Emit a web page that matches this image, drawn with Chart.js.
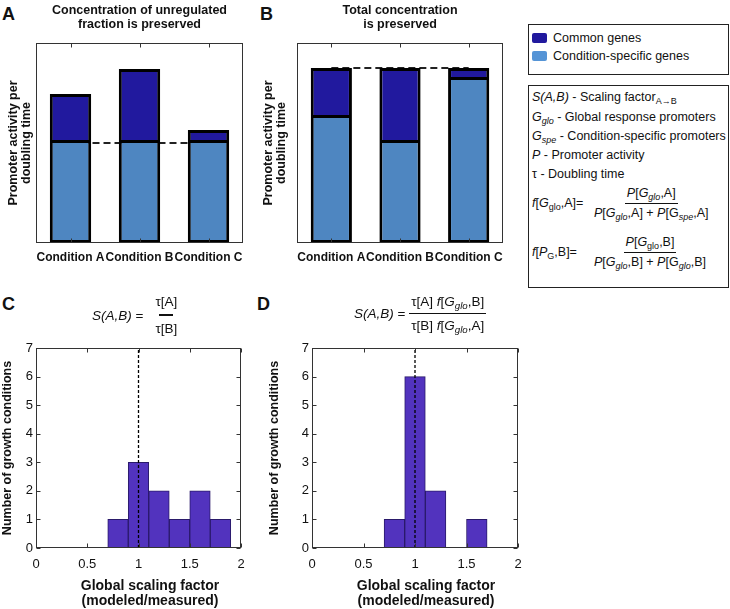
<!DOCTYPE html>
<html><head><meta charset="utf-8">
<script src="https://cdn.jsdelivr.net/npm/chart.js@4"></script>
<style>
html,body{margin:0;padding:0;background:#fff}
body{width:730px;height:609px;position:relative;overflow:hidden;font-family:"Liberation Sans",Arial,Helvetica,sans-serif;color:#111}
canvas{position:absolute}
.letter{position:absolute;font-weight:bold;font-size:18px;line-height:18px}
.box{position:absolute;box-sizing:border-box;border:1.5px solid #222}
.row{position:absolute;left:3px;font-size:12.5px;line-height:15px;white-space:nowrap}
sub{font-size:0.72em;vertical-align:-0.35em;line-height:0}
.sw{display:inline-block;width:15px;height:10px;border-radius:2px;vertical-align:-1px;margin-right:6px}
.frac{display:inline-flex;flex-direction:column;align-items:center;vertical-align:middle}
.frac .num{padding:0 2px 2px 2px;border-bottom:1.5px solid #111}
.frac .den{padding:2px 2px 0 2px}
.xt{position:absolute;font-weight:bold;font-size:14px;line-height:15px;text-align:center;white-space:nowrap}
.formula{position:absolute;font-size:13.5px;white-space:nowrap;display:flex;align-items:center}
</style></head>
<body>
<div class="letter" style="left:2px;top:5px">A</div>
<div class="letter" style="left:260px;top:5px">B</div>
<div class="letter" style="left:2px;top:295px">C</div>
<div class="letter" style="left:257px;top:295px">D</div>

<canvas id="cA" width="255" height="280" style="left:0;top:0"></canvas>
<canvas id="cB" width="260" height="280" style="left:255px;top:0"></canvas>
<canvas id="cC" width="255" height="319" style="left:0;top:290px"></canvas>
<canvas id="cD" width="275" height="319" style="left:255px;top:290px"></canvas>

<div class="box" style="left:528px;top:24px;width:201px;height:51px">
  <div class="row" style="top:6px;left:3px"><span class="sw" style="background:#21199E"></span>Common genes</div>
  <div class="row" style="top:24px;left:3px"><span class="sw" style="background:#5594d6"></span>Condition-specific genes</div>
</div>

<div class="box" style="left:528px;top:85px;width:201px;height:203px">
  <div class="row" style="top:4px"><i>S(A,B)</i> - Scaling factor<sub>A→B</sub></div>
  <div class="row" style="top:24px"><i>G<sub>glo</sub></i> - Global response promoters</div>
  <div class="row" style="top:43px"><i>G<sub>spe</sub></i> - Condition-specific promoters</div>
  <div class="row" style="top:62px"><i>P</i> - Promoter activity</div>
  <div class="row" style="top:81px">τ - Doubling time</div>
  <div class="row" style="top:100px;display:flex;align-items:center">
    <span style="width:60px"><i>f</i>[<i>G</i><sub>glo</sub>,A]=</span>
    <span class="frac"><span class="num"><i>P</i>[<i>G<sub>glo</sub></i>,A]</span><span class="den"><i>P</i>[<i>G<sub>glo</sub></i>,A] + <i>P</i>[G<sub><i>spe</i></sub>,A]</span></span>
  </div>
  <div class="row" style="top:149px;display:flex;align-items:center">
    <span style="width:60px"><i>f</i>[<i>P</i><sub>G</sub>,B]=</span>
    <span class="frac"><span class="num"><i>P</i>[<i>G</i><sub>glo</sub>,B]</span><span class="den"><i>P</i>[<i>G<sub>glo</sub></i>,B] + <i>P</i>[G<sub><i>glo</i></sub>,B]</span></span>
  </div>
</div>

<div class="formula" style="left:92px;top:294px">
  <span><i>S(A,B)</i> =</span>
  <span class="frac" style="margin-left:12px"><span>τ[A]</span><span style="width:14px;border-top:2px solid #111;margin:5px 0 5px 0"></span><span>τ[B]</span></span>
</div>
<div class="formula" style="left:354px;top:294px">
  <span><i>S(A,B)</i> =&nbsp;</span>
  <span class="frac"><span class="num" style="padding-bottom:4px">τ[A] <i>f</i>[<i>G<sub>glo</sub></i>,B]</span><span class="den" style="padding-top:4px">τ[B] <i>f</i>[<i>G<sub>glo</sub></i>,A]</span></span>
</div>

<div class="xt" style="left:70px;top:578px;width:160px">Global scaling factor<br>(modeled/measured)</div>
<div class="xt" style="left:346px;top:578px;width:160px">Global scaling factor<br>(modeled/measured)</div>

<script>
// ---- data ----
const conditions = ['Condition A', 'Condition B', 'Condition C'];
// Panel A: concentration of unregulated fraction preserved
const specificA = [0.50, 0.50, 0.50];
const commonA   = [0.245, 0.37, 0.065];
const refLevelA = 0.50;
// Panel B: total concentration preserved
const specificB = [0.625, 0.50, 0.815];
const commonB   = [0.25, 0.375, 0.06];
const refLevelB = 0.875;
// Panels C, D: histograms of global scaling factor
const binCentersC = [0.8, 1.0, 1.2, 1.4, 1.6, 1.8];
const countsC     = [1, 3, 2, 1, 2, 1];
const binCentersD = [0.8, 1.0, 1.2, 1.6];
const countsD     = [1, 6, 2, 1];
const refScaling  = 1;
const xTickValues = [0, 0.5, 1, 1.5, 2];
const yMaxHist    = 7;

const COMMON = '#21199E', SPECIFIC = '#4E86C1', HIST = '#5233BE';

Chart.defaults.font.family = '"Liberation Sans", Arial, Helvetica, sans-serif';
Chart.defaults.color = '#111';
Chart.defaults.animation = false;

const framePlugin = {
  id: 'frame',
  afterDatasetsDraw(chart, args, opts) {
    const {ctx, chartArea: a} = chart;
    const L = 4;
    ctx.save();
    ctx.strokeStyle = '#333';
    ctx.lineWidth = 1;
    const l = Math.round(a.left) + 0.5, r = Math.round(a.right) - 0.5, t = Math.round(a.top) + 0.5, b = Math.round(a.bottom) - 0.5;
    ctx.strokeRect(l, t, r - l, b - t);
    ctx.beginPath();
    if (opts.xTicks) {
      const xs = chart.scales.x;
      xs.ticks.forEach((tk, i) => {
        const px = Math.round(xs.getPixelForTick(i)) + 0.5;
        ctx.moveTo(px, t); ctx.lineTo(px, t + L);
        ctx.moveTo(px, b); ctx.lineTo(px, b - L);
      });
    }
    if (opts.yTicks) {
      const ys = chart.scales.y;
      ys.ticks.forEach((tk, i) => {
        const py = Math.round(ys.getPixelForTick(i)) + 0.5;
        ctx.moveTo(l, py); ctx.lineTo(l + L, py);
        ctx.moveTo(r, py); ctx.lineTo(r - L, py);
      });
    }
    ctx.stroke();
    ctx.restore();
  }
};

function noOverhangX(s) { s.paddingLeft = 0; s.paddingRight = 0; }
function noOverhangY(s) { s.paddingTop = 0; s.paddingBottom = 0; }

function stackedChart(id, title, specific, common, refLevel, axisWidth) {
  return new Chart(document.getElementById(id), {
    type: 'bar',
    data: {
      labels: conditions,
      datasets: [
        {label: 'Condition-specific genes', data: specific, backgroundColor: SPECIFIC, borderColor: '#000',
         borderWidth: 3, borderSkipped: 'top', stack: 'bars', order: 0},
        {label: 'Common genes', data: common, backgroundColor: COMMON, borderColor: '#000',
         borderWidth: 3, borderSkipped: false, stack: 'bars', order: 0},
        {type: 'line', label: 'reference', data: conditions.map(() => refLevel), borderColor: '#222',
         borderWidth: 2, borderDash: [7, 4], pointRadius: 0, stack: 'ref', order: 5}
      ]
    },
    options: {
      responsive: false,
      layout: {padding: {left: 0, right: 12, top: 0, bottom: 0}},
      categoryPercentage: 1, barPercentage: 0.6,
      plugins: {
        legend: {display: false}, tooltip: {enabled: false},
        title: {display: true, text: title, fullSize: false, color: '#111',
                font: {size: 12.5, weight: 'bold', lineHeight: 1.12}, padding: {top: 4, bottom: 11}},
        frame: {xTicks: true, yTicks: false}
      },
      scales: {
        x: {stacked: true, grid: {display: false, drawTicks: false}, border: {display: false},
            ticks: {font: {size: 12, weight: 'bold'}, padding: 7, maxRotation: 0, autoSkip: false},
            afterFit(s) { s.height = 37; noOverhangX(s); }},
        y: {stacked: true, min: 0, max: 1, grid: {display: false, drawTicks: false}, border: {display: false},
            ticks: {display: false},
            title: {display: true, text: ['Promoter activity per', 'doubling time'],
                    font: {size: 12.5, weight: 'bold', lineHeight: 1.05}, padding: {top: 7, bottom: 0}},
            afterFit(s) { s.width = axisWidth; noOverhangY(s); }}
      }
    },
    plugins: [framePlugin]
  });
}

stackedChart('cA', ['Concentration of unregulated', 'fraction is preserved'], specificA, commonA, refLevelA, 36);
stackedChart('cB', ['Total concentration', 'is preserved'], specificB, commonB, refLevelB, 42);

function histChart(id, centers, counts, axisWidth, titlePad, rightPad) {
  return new Chart(document.getElementById(id), {
    type: 'bar',
    data: {
      datasets: [
        {type: 'line', label: 'S = 1', data: [{x: refScaling, y: 0}, {x: refScaling, y: yMaxHist}],
         borderColor: '#000', borderWidth: 1.3, borderDash: [3, 2], pointRadius: 0, order: 0},
        {label: 'Growth conditions', data: centers.map((c, i) => ({x: c, y: counts[i]})),
         backgroundColor: HIST, borderColor: '#2a1a6a', borderWidth: 1, borderSkipped: false,
         categoryPercentage: 1, barPercentage: 1, order: 1}
      ]
    },
    options: {
      responsive: false,
      layout: {padding: {left: 0, right: rightPad, top: 58, bottom: 0}},
      plugins: {legend: {display: false}, tooltip: {enabled: false}, frame: {xTicks: true, yTicks: true}},
      scales: {
        x: {type: 'linear', min: 0, max: 2, offset: false,
            grid: {display: false, drawTicks: false, offset: false}, border: {display: false},
            afterBuildTicks(s) { s.ticks = xTickValues.map(v => ({value: v})); },
            ticks: {font: {size: 13}, padding: 9, color: '#111', callback: v => String(v)},
            afterFit(s) { s.height = 61; noOverhangX(s); }},
        y: {min: 0, max: yMaxHist, grid: {display: false, drawTicks: false}, border: {display: false},
            ticks: {stepSize: 1, font: {size: 13}, padding: 3, color: '#111'},
            title: {display: true, text: 'Number of growth conditions',
                    font: {size: 12.5, weight: 'bold'}, padding: {top: titlePad, bottom: 0}},
            afterFit(s) { s.width = axisWidth; noOverhangY(s); }}
      }
    },
    plugins: [framePlugin]
  });
}

histChart('cC', binCentersC, countsC, 36, 0.5, 14);
histChart('cD', binCentersD, countsD, 57, 12.5, 12);
</script>
</body></html>
